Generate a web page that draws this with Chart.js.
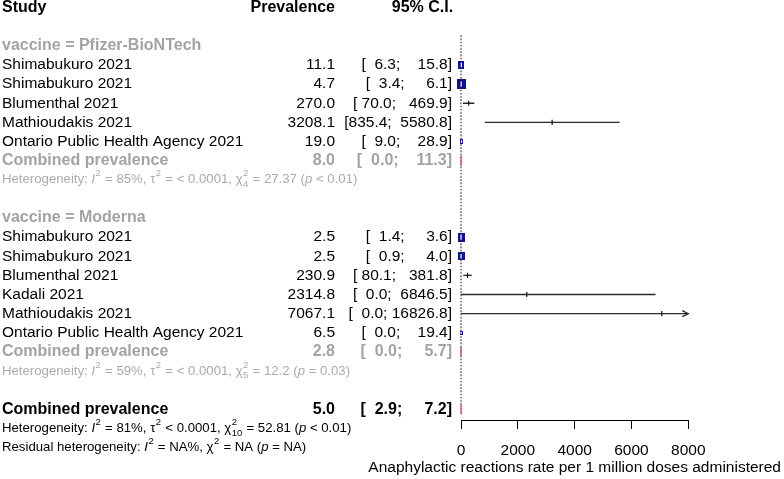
<!DOCTYPE html>
<html><head><meta charset="utf-8">
<script src="https://cdn.jsdelivr.net/npm/chart.js@4.4.1/dist/chart.umd.min.js"></script>
<style>html,body{margin:0;padding:0;background:#fff;overflow:hidden}</style>
</head><body>
<canvas id="c" width="784" height="479" style="display:block;width:784px;height:479px"></canvas>
<script>
// ---------- data ----------
const pfizerLabel = "vaccine = Pfizer-BioNTech";
const pfizerStudies = ["Shimabukuro 2021", "Shimabukuro 2021", "Blumenthal 2021", "Mathioudakis 2021", "Ontario Public Health Agency 2021"];
const pfizerPrev  = [11.1, 4.7, 270.0, 3208.1, 19.0];
const pfizerLower = [6.3, 3.4, 70.0, 835.4, 9.0];
const pfizerUpper = [15.8, 6.1, 469.9, 5580.8, 28.9];
const pfizerCombined = [8.0, 0.0, 11.3];

const modernaLabel = "vaccine = Moderna";
const modernaStudies = ["Shimabukuro 2021", "Shimabukuro 2021", "Blumenthal 2021", "Kadali 2021", "Mathioudakis 2021", "Ontario Public Health Agency 2021"];
const modernaPrev  = [2.5, 2.5, 230.9, 2314.8, 7067.1, 6.5];
const modernaLower = [1.4, 0.9, 80.1, 0.0, 0.0, 0.0];
const modernaUpper = [3.6, 4.0, 381.8, 6846.5, 16826.8, 19.4];
const modernaCombined = [2.8, 0.0, 5.7];

const overallCombined = [5.0, 2.9, 7.2];
const xTicks = [0, 2000, 4000, 6000, 8000];
const xTitle = "Anaphylactic reactions rate per 1 million doses administered";
const headers = ["Study", "Prevalence", "95% C.I."];
const combinedLabel = "Combined prevalence";
const hetPfizer  = ["85%", "= < 0.0001", "4", "27.37", "< 0.01"];
const hetModerna = ["59%", "= < 0.0001", "5", "12.2", "= 0.03"];
const hetOverall = ["81%", "< 0.0001", "10", "52.81", "< 0.01"];

// ---------- style (square sizes in px: [width, height]) ----------
const pfizerSquare  = [[6, 8], [9, 10], null, null, [3, 5]];
const modernaSquare = [[7, 9], [7, 8], null, null, null, [3, 4]];

const FONT = '"Liberation Sans", Arial, Helvetica, sans-serif';
const FS = 15.5, FS_BOLD = 16, FS_SMALL = 13.2;
const GRAY = '#a3a3a3', GRAY_HET = '#ababab';
const SQ = '#12128a', DIA = '#d2678e';

// ---------- row layout ----------
const studyRows = [];
pfizerStudies.forEach((s, i) => studyRows.push({k: 3 + i, study: s, est: pfizerPrev[i], lo: pfizerLower[i], hi: pfizerUpper[i], sq: pfizerSquare[i]}));
modernaStudies.forEach((s, i) => studyRows.push({k: 12 + i, study: s, est: modernaPrev[i], lo: modernaLower[i], hi: modernaUpper[i], sq: modernaSquare[i]}));
const combRows = [
  {k: 8, v: pfizerCombined, sub: true},
  {k: 18, v: modernaCombined, sub: true},
  {k: 21, v: overallCombined, sub: false}
];
const xMax = xTicks[xTicks.length - 1];

// CI string formatting (R-like padding)
const f1 = v => v.toFixed(1);
const allLo = studyRows.map(r => f1(r.lo)).concat(combRows.map(r => f1(r.v[1])));
const allHi = studyRows.map(r => f1(r.hi)).concat(combRows.map(r => f1(r.v[2])));
const wLo = Math.max(...allLo.map(s => s.length));
const wHi = Math.max(...allHi.map(s => s.length));
const ciStr = (lo, hi) => '[' + f1(lo).padStart(wLo, ' ') + '; ' + f1(hi).padStart(wHi, ' ') + ']';

// square marker images
function makeRect(w, h) {
  const cv = document.createElement('canvas');
  cv.width = w; cv.height = h;
  const c = cv.getContext('2d');
  c.fillStyle = SQ; c.fillRect(0, 0, w, h);
  return cv;
}

// ---------- datasets ----------
const datasets = [];
// estimate ticks (top-most)
datasets.push({
  data: studyRows.map(r => ({x: r.est, y: r.k})),
  pointStyle: 'line', rotation: 90,
  pointRadius: studyRows.map(r => r.sq ? Math.min(2.6, r.sq[1] * 0.28) : 2.6),
  borderColor: studyRows.map(r => r.sq ? '#ffffff' : '#111111'),
  pointBorderColor: studyRows.map(r => r.sq ? '#ffffff' : '#111111'),
  pointBorderWidth: 1.2, showLine: false, order: 1, clip: false
});
// squares
const sqRows = studyRows.filter(r => r.sq);
const sqImgs = sqRows.map(r => makeRect(r.sq[0], r.sq[1]));
datasets.push({
  data: sqRows.map(r => ({x: r.est, y: r.k})),
  pointStyle: sqImgs, pointRadius: 5, showLine: false, order: 2, clip: false
});
// diamonds
combRows.forEach(r => {
  const [est, lo, hi] = r.v;
  datasets.push({
    data: [{x: lo, y: r.k}, {x: est, y: r.k - 0.27}, {x: hi, y: r.k}, {x: est, y: r.k + 0.27}, {x: lo, y: r.k}],
    showLine: true, borderColor: DIA, borderWidth: 1.8, pointRadius: 0, fill: false, order: 3, clip: false
  });
});
// CI lines
studyRows.forEach(r => {
  datasets.push({
    data: [{x: r.lo, y: r.k}, {x: r.hi, y: r.k}],
    showLine: true, borderColor: '#2a2a2a', borderWidth: 1.3, pointRadius: 0, order: 4,
    clip: {left: 10, right: 0, top: false, bottom: false}
  });
});
// reference line
datasets.push({
  data: [{x: 0, y: 1.45}, {x: 0, y: 20.75}],
  showLine: true, borderColor: '#555', borderWidth: 1.4, borderDash: [1.6, 1.6], pointRadius: 0, order: 5, clip: false
});

// ---------- text helpers ----------
function txt(ctx, s, x, y, align, bold, color, size) {
  ctx.font = (bold ? 'bold ' : '') + (size || (bold ? FS_BOLD : FS)) + 'px ' + FONT;
  ctx.fillStyle = color || '#000';
  ctx.textAlign = align || 'left';
  ctx.textBaseline = 'middle';
  ctx.fillText(s, x, y);
}
function runs(ctx, x, y, list, size, color) {
  ctx.fillStyle = color; ctx.textBaseline = 'middle'; ctx.textAlign = 'left';
  const small = size * 0.72;
  for (const [t, st] of list) {
    if (st === 'n' || st === 'i') {
      ctx.font = (st === 'i' ? 'italic ' : '') + size + 'px ' + FONT;
      ctx.fillText(t, x, y); x += ctx.measureText(t).width;
    } else if (st === 'sup') {
      ctx.font = small + 'px ' + FONT;
      ctx.fillText(t, x + 0.5, y - size * 0.45); x += ctx.measureText(t).width + 1;
    } else if (st === 'ss') {
      ctx.font = small + 'px ' + FONT;
      ctx.fillText(t[0], x + 0.5, y - size * 0.45);
      ctx.fillText(t[1], x + 0.5, y + size * 0.35);
      x += Math.max(ctx.measureText(t[0]).width, ctx.measureText(t[1]).width) + 1;
    }
  }
}
function hetRuns(h) {
  return [["Heterogeneity: ", 'n'], ["I", 'i'], ["2", 'sup'], [" = " + h[0] + ", \u03c4", 'n'], ["2", 'sup'],
    [" " + h[1] + ", \u03c7", 'n'], [["2", h[2]], 'ss'], [" = " + h[3] + " (", 'n'], ["p", 'i'], [" " + h[4] + ")", 'n']];
}

const textPlugin = {
  id: 'forestText',
  afterDraw(chart) {
    const ctx = chart.ctx, ys = chart.scales.y, xs = chart.scales.x;
    const Y = k => ys.getPixelForValue(k);
    const xStudy = 2, xPrev = 335, xCI = 452;
    ctx.save();
    // headers
    txt(ctx, headers[0], xStudy, Y(0), 'left', true);
    txt(ctx, headers[1], xPrev, Y(0), 'right', true);
    txt(ctx, headers[2], 422.5, Y(0), 'center', true);
    // group labels
    txt(ctx, pfizerLabel, xStudy, Y(2), 'left', true, GRAY);
    txt(ctx, modernaLabel, xStudy, Y(11), 'left', true, GRAY);
    // studies
    studyRows.forEach(r => {
      txt(ctx, r.study, xStudy, Y(r.k), 'left', false);
      txt(ctx, f1(r.est), xPrev, Y(r.k), 'right', false);
      txt(ctx, ciStr(r.lo, r.hi), xCI, Y(r.k), 'right', false);
    });
    // combined rows
    combRows.forEach(r => {
      const c = r.sub ? GRAY : '#000';
      txt(ctx, combinedLabel, xStudy, Y(r.k), 'left', true, c);
      txt(ctx, f1(r.v[0]), xPrev, Y(r.k), 'right', true, c);
      txt(ctx, ciStr(r.v[1], r.v[2]), xCI, Y(r.k), 'right', true, c);
    });
    // heterogeneity
    runs(ctx, xStudy, Y(9), hetRuns(hetPfizer), FS_SMALL, GRAY_HET);
    runs(ctx, xStudy, Y(19), hetRuns(hetModerna), FS_SMALL, GRAY_HET);
    runs(ctx, xStudy, Y(22), hetRuns(hetOverall), FS_SMALL, '#000');
    runs(ctx, xStudy, Y(23), [["Residual heterogeneity: ", 'n'], ["I", 'i'], ["2", 'sup'], [" = NA%, \u03c7", 'n'], [["2", ""], 'ss'], [" = NA (", 'n'], ["p", 'i'], [" = NA)", 'n']], FS_SMALL, '#000');
    // x axis title (centred on the axis, may extend beyond it)
    txt(ctx, xTitle, (xs.left + xs.right) / 2, 468, 'center', false, '#000', FS);
    // arrows for clipped CIs
    ctx.strokeStyle = '#2a2a2a'; ctx.lineWidth = 1.3;
    studyRows.filter(r => r.hi > xMax).forEach(r => {
      const px = xs.getPixelForValue(xMax), py = Y(r.k);
      ctx.beginPath(); ctx.moveTo(px - 6, py - 3); ctx.lineTo(px, py); ctx.lineTo(px - 6, py + 3); ctx.stroke();
    });
    ctx.restore();
  }
};

new Chart(document.getElementById('c'), {
  type: 'scatter',
  data: {datasets},
  options: {
    responsive: false, animation: false, events: [],
    layout: {padding: {left: 461, right: 95.7, top: 26.73, bottom: 0}},
    plugins: {legend: {display: false}, tooltip: {enabled: false}},
    scales: {
      x: {
        type: 'linear', position: 'bottom', min: xTicks[0], max: xMax,
        afterBuildTicks: s => { s.ticks = xTicks.map(v => ({value: v})); },
        afterFit: s => { s.height = 59; },
        grid: {drawOnChartArea: false, drawTicks: true, tickLength: 9, color: '#000', tickColor: '#000', tickWidth: 1},
        border: {display: true, color: '#000', width: 1},
        ticks: {color: '#000', font: {family: FONT, size: FS}, padding: 12, maxRotation: 0, autoSkip: false,
                callback: v => String(v)},
        title: {display: false}
      },
      y: {type: 'linear', display: false, reverse: true, min: 1, max: 21.56}
    }
  },
  plugins: [textPlugin]
});
</script>
</body></html>
